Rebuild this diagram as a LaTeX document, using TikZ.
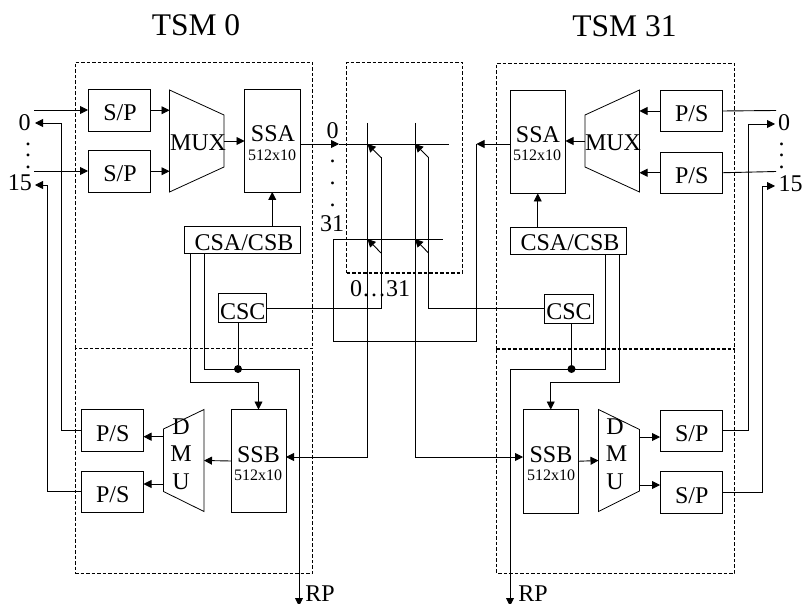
\documentclass[tikz,border=0pt]{standalone}
\usepackage{fontspec}
\setmainfont{Liberation Serif}
\usetikzlibrary{arrows.meta,calc}
\tikzset{
  boxn/.style={draw=black,line width=0.9pt,inner sep=0pt,outer sep=0pt},
  dashes/.style={draw=black,line width=1pt,dash pattern=on 3.5pt off 2pt},
  dashbox/.style={dashes,inner sep=0pt,outer sep=0pt},
  ghost/.style={inner sep=0pt,outer sep=0pt},
  lbl/.style={font=\fontsize{24}{24}\selectfont,anchor=base,inner sep=0pt,outer sep=0pt},
  sml/.style={font=\fontsize{16}{16}\selectfont,anchor=base,inner sep=0pt,outer sep=0pt},
  ttl/.style={font=\fontsize{31.5}{31.5}\selectfont,anchor=base,inner sep=0pt,outer sep=0pt},
  wire/.style={draw=black,line width=0.9pt},
  arr/.style={wire,-{Triangle[length=8pt,width=8pt]}},
  trap/.style={draw=black,line width=0.8pt,line join=miter},
  jdot/.style={circle,fill=black,inner sep=0pt,outer sep=0pt,minimum size=8pt}
}
% name, x1,y1,x2,y2, style
\newcommand{\rectn}[6]{\node[#6,minimum width={(#4-#2)*1pt},minimum height={(#5-#3)*1pt}] (#1) at ({(#2+#4)/2},{(#3+#5)/2}) {};}
\newcommand{\bx}[8]{\rectn{#1}{#2}{#3}{#4}{#5}{boxn}\node[lbl] (#1-t) at (#6,#7) {#8};}
\begin{document}
\begin{tikzpicture}[x=1pt,y=-1pt]
\useasboundingbox (0,0) rectangle (803,604);
% titles
\node[ttl] (t0) at (196,36) {TSM 0};
\node[ttl] (t31) at (624.5,37) {TSM 31};
% dashed boxes
\rectn{dA}{75}{62.5}{312.5}{348}{ghost}
\draw[dashes] (dA.south west) -- (dA.north west) -- (dA.north east) -- (dA.south east);
\rectn{dB}{75}{348}{312.5}{573}{dashbox}
\rectn{dC}{346.5}{62.5}{462.5}{273}{ghost}
\draw[dashes] (dC.south west) -- (dC.north west) -- (dC.north east) -- (dC.south east);
\rectn{dD}{496.5}{63.5}{734.5}{349}{ghost}
\draw[dashes] (dD.south west) -- (dD.north west) -- (dD.north east) -- (dD.south east);
\rectn{dE}{496.5}{349}{734.5}{573}{ghost}
\draw[dashes] (dE.north west) -- (dE.south west) -- (dE.south east) -- (dE.north east);
\draw[line width=1.5pt,dash pattern=on 3.5pt off 2pt] (dC.south west) -- (dC.south east);
\draw[line width=1.5pt,dash pattern=on 3.5pt off 2pt] (dD.south west) -- (dD.south east);
% left top
\bx{sp1}{88}{89.5}{150}{131}{120}{121}{S/P}
\bx{sp2}{88}{150.5}{150}{192}{120}{182}{S/P}
\draw[trap] (169.5,90) -- (224,115) -- (224,167) -- (169.5,192) -- cycle;
\rectn{mux1}{169.5}{90}{224}{192}{ghost}
\node[lbl] (mux1-t) at (198,151) {MUX};
\bx{ssa1}{244.5}{89.5}{300}{192}{273}{141.7}{SSA}
\node[sml] (ssa1-s) at (272,161) {512x10};
\bx{cs1}{184}{226}{300}{253.5}{244}{250.7}{CSA/CSB}
\bx{csc1}{218}{293.5}{266}{322}{242.7}{319}{CSC}
% right top
\bx{ps1}{660}{90.5}{722}{131.5}{691.7}{121.7}{P/S}
\bx{ps2}{660}{152}{722}{193.5}{691.7}{183.3}{P/S}
\draw[trap] (639.5,90) -- (585,115) -- (585,167) -- (639.5,192) -- cycle;
\rectn{mux2}{585}{90}{639.5}{192}{ghost}
\node[lbl] (mux2-t) at (613,151) {MUX};
\bx{ssa2}{510}{90.5}{565.5}{193.5}{538}{143}{SSA}
\node[sml] (ssa2-s) at (537,160.7) {512x10};
\bx{cs2}{510}{227}{626.5}{254}{570}{250.7}{CSA/CSB}
\bx{csc2}{544}{294}{593}{323}{569}{319}{CSC}
% left bottom
\bx{ps3}{81.5}{409.5}{143.5}{451}{112.7}{441}{P/S}
\bx{ps4}{81.5}{471}{143.5}{512.5}{112.7}{502.3}{P/S}
\draw[trap] (204,409.5) -- (163.5,429) -- (163.5,491.5) -- (204,511.5) -- cycle;
\rectn{dmu1}{163.5}{409.5}{204}{511.5}{ghost}
\node[lbl] (dmu1-d) at (181,434) {D};
\node[lbl] (dmu1-m) at (181,461) {M};
\node[lbl] (dmu1-u) at (181,489) {U};
\bx{ssb1}{231}{409.5}{286}{512.5}{258.5}{462}{SSB}
\node[sml] (ssb1-s) at (258,480) {512x10};
% right bottom
\bx{ssb2}{523}{409.5}{578.5}{513}{551}{462}{SSB}
\node[sml] (ssb2-s) at (551,480.5) {512x10};
\draw[trap] (598.5,409.5) -- (639.5,429.5) -- (639.5,491) -- (598.5,511.5) -- cycle;
\rectn{dmu2}{598.5}{409.5}{639.5}{511.5}{ghost}
\node[lbl] (dmu2-d) at (615,434) {D};
\node[lbl] (dmu2-m) at (616.5,461) {M};
\node[lbl] (dmu2-u) at (615,489) {U};
\bx{sp3}{660}{410}{722}{451.5}{691.7}{441.7}{S/P}
\bx{sp4}{660}{471.5}{722}{513}{691.7}{503}{S/P}
% side labels
\node[lbl] (l0) at (24.5,131) {0};
\node[lbl] (l15) at (20,191) {15};
\node[lbl] (r0) at (784,131) {0};
\node[lbl] (r15) at (790.7,191.6) {15};
\node[lbl] (c0) at (332.5,139) {0};
\node[lbl] (c31) at (332,231.7) {31};
\node[lbl] (c031) at (380,296) {0…31};
\node[lbl] (rp1) at (320,601.7) {RP};
\node[lbl] (rp2) at (533,601.7) {RP};
\node[font=\fontsize{24}{11.5}\selectfont,align=center,inner sep=0pt,outer sep=0pt] (ldots) at (28,155.5) {.\\.\\.};
\node[font=\fontsize{24}{11.5}\selectfont,align=center,inner sep=0pt,outer sep=0pt] (rdots) at (781.7,155.5) {.\\.\\.};
\node[font=\fontsize{24}{22}\selectfont,align=center,inner sep=0pt,outer sep=0pt] (cdots) at (332.5,183) {.\\.\\.};
% junction dots
\node[jdot] (jl) at (238,369) {};
\node[jdot] (jr) at (571.5,369) {};
% free-end coordinates
\coordinate (in1) at (34,110);
\coordinate (in2) at (34,171);
\coordinate (o0l) at (35,123);
\coordinate (o15l) at (35,185);
\coordinate (k0l) at (61,123);
\coordinate (k15l) at (47.5,185);
\coordinate (out1) at (776,110.5);
\coordinate (out2) at (776,171.5);
\coordinate (o0r) at (775,124);
\coordinate (o15r) at (775,186);
\coordinate (k0r) at (748.7,124);
\coordinate (k15r) at (762,186);
\coordinate (b0) at (339,144);
\coordinate (b0e) at (449,144);
\coordinate (b31s) at (333.5,239);
\coordinate (b31e) at (443,239);
\coordinate (ret1) at (476.5,144);
\coordinate (ret2) at (476.5,341);
\coordinate (v1t) at (367.5,123);
\coordinate (v1b) at (367.5,457);
\coordinate (v2t) at (415,123);
\coordinate (v2b) at (415,457);
\coordinate (j1) at (367.5,144);
\coordinate (j2) at (415,144);
\coordinate (j3) at (367.5,239);
\coordinate (j4) at (415,239);
\coordinate (d1) at (381,157.5);
\coordinate (d2) at (428.5,157.5);
\coordinate (d3) at (381,253);
\coordinate (d4) at (428.5,253);
\coordinate (h1) at (381,308);
\coordinate (h2) at (428.5,308);
\coordinate (rpl) at (299,606);
\coordinate (rpr) at (510,606);
% top-left wires
\draw[arr] (in1) -- (sp1.west |- in1);
\draw[arr] (in2) -- (sp2.west |- in2);
\draw[arr] (sp1.east) -- (mux1.west |- sp1.east);
\draw[arr] (sp2.east) -- (mux1.west |- sp2.east);
\draw[arr] (mux1.east) -- (ssa1.west |- mux1.east);
\draw[arr] (ssa1.south |- cs1.north) -- (ssa1.south);
\draw[arr] (ps3.west) -| (k0l) -- (o0l);
\draw[arr] (ps4.west) -| (k15l) -- (o15l);
% top-right wires
\draw[wire] (ps1.east) -- (out1);
\draw[wire] (ps2.east) -- (out2);
\draw[arr] (ps1.west) -- (mux2.east |- ps1.west);
\draw[arr] (ps2.west) -- (mux2.east |- ps2.west);
\draw[arr] (mux2.west) -- (ssa2.east |- mux2.west);
\draw[arr] (cs2.north -| ssa2.south) -- (ssa2.south);
\draw[arr] (sp3.east) -| (k0r) -- (o0r);
\draw[arr] (sp4.east) -| (k15r) -- (o15r);
% centre
\draw[arr] (ssa1.east |- b0) -- (b0);
\draw[wire] (b0) -- (b0e);
\draw[arr] (ssa2.west |- ret1) -- (ret1);
\draw[wire,line join=miter] (ret1) -- (ret2) -| (b31s) -- (b31e);
\draw[wire] (v1t) -- (v1b);
\draw[arr] (v1b) -- (ssb1.east |- v1b);
\draw[wire] (v2t) -- (v2b);
\draw[arr] (v2b) -- (ssb2.west |- v2b);
\draw[arr] (d1) -- (j1);
\draw[arr] (d2) -- (j2);
\draw[arr] (d3) -- (j3);
\draw[arr] (d4) -- (j4);
\draw[wire] (csc1.east |- h1) -- (h1) -- (d1);
\draw[wire] (csc2.west |- h2) -- (h2) -- (d2);
% bottom wires
\draw[arr] (dmu1.west |- 0,436.7) -- (ps3.east |- 0,436.7);
\draw[arr] (dmu1.west |- 0,484) -- (ps4.east |- 0,484);
\draw[arr] (ssb1.west) -- (dmu1.east);
\draw[arr] (ssb2.east) -- (dmu2.west);
\draw[arr] (dmu2.east |- 0,437) -- (sp3.west |- 0,437);
\draw[arr] (dmu2.east |- 0,485) -- (sp4.west |- 0,485);
% control wires
\draw[wire] (csc1.south -| jl) -- (jl);
\draw[wire] (csc2.south -| jr) -- (jr);
\draw[arr] (cs1.south -| 190.5,0) -- (190.5,382) -| (ssb1.north);
\draw[arr] (cs1.south -| 204,0) -- (204,369) -- (rpl |- 0,369) -- (rpl);
\draw[arr] (cs2.south -| 619,0) -- (619,382.5) -| (ssb2.north);
\draw[arr] (cs2.south -| 605.7,0) -- (605.7,369) -- (rpr |- 0,369) -- (rpr);
\end{tikzpicture}
\end{document}
